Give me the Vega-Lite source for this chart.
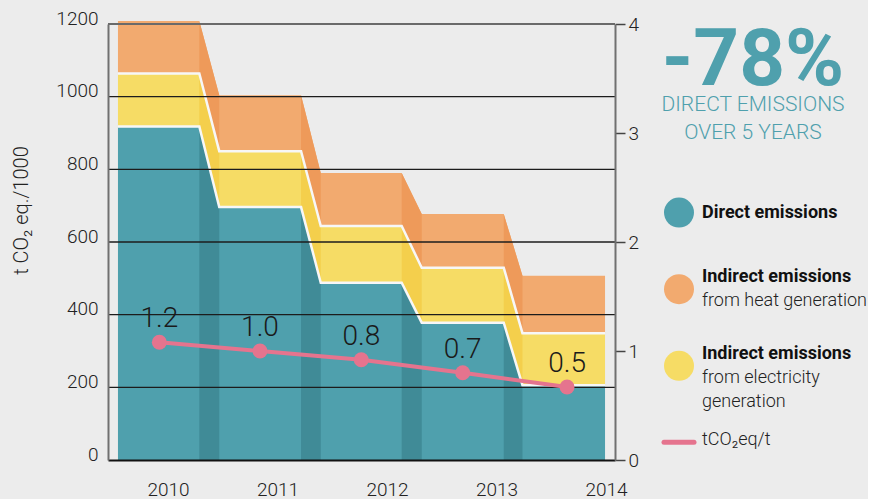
{
  "$schema": "https://vega.github.io/schema/vega-lite/v6.json",
  "background": "#ECECEC",
  "padding": {"left": 11, "top": 9, "right": 0, "bottom": 0},
  "config": {"view": {"stroke": null}, "font": "Roboto"},
  "datasets": {
    "emissions": [
      {"year": 2010, "t": 2009.543, "gap": "", "series": "direct", "value": 918},
      {"year": 2010, "t": 2009.543, "gap": "", "series": "electricity", "value": 146},
      {"year": 2010, "t": 2009.543, "gap": "", "series": "heat", "value": 144},
      {"year": 2010, "t": 2010.286, "gap": "2010-2011", "series": "direct", "value": 918},
      {"year": 2010, "t": 2010.286, "gap": "2010-2011", "series": "electricity", "value": 146},
      {"year": 2010, "t": 2010.286, "gap": "2010-2011", "series": "heat", "value": 144},
      {"year": 2011, "t": 2010.468, "gap": "2010-2011", "series": "direct", "value": 696},
      {"year": 2011, "t": 2010.468, "gap": "2010-2011", "series": "electricity", "value": 154},
      {"year": 2011, "t": 2010.468, "gap": "2010-2011", "series": "heat", "value": 154},
      {"year": 2011, "t": 2011.215, "gap": "2011-2012", "series": "direct", "value": 696},
      {"year": 2011, "t": 2011.215, "gap": "2011-2012", "series": "electricity", "value": 154},
      {"year": 2011, "t": 2011.215, "gap": "2011-2012", "series": "heat", "value": 154},
      {"year": 2012, "t": 2011.395, "gap": "2011-2012", "series": "direct", "value": 488},
      {"year": 2012, "t": 2011.395, "gap": "2011-2012", "series": "electricity", "value": 156},
      {"year": 2012, "t": 2011.395, "gap": "2011-2012", "series": "heat", "value": 146},
      {"year": 2012, "t": 2012.134, "gap": "2012-2013", "series": "direct", "value": 488},
      {"year": 2012, "t": 2012.134, "gap": "2012-2013", "series": "electricity", "value": 156},
      {"year": 2012, "t": 2012.134, "gap": "2012-2013", "series": "heat", "value": 146},
      {"year": 2013, "t": 2012.317, "gap": "2012-2013", "series": "direct", "value": 378},
      {"year": 2013, "t": 2012.317, "gap": "2012-2013", "series": "electricity", "value": 151},
      {"year": 2013, "t": 2012.317, "gap": "2012-2013", "series": "heat", "value": 148},
      {"year": 2013, "t": 2013.066, "gap": "2013-2014", "series": "direct", "value": 378},
      {"year": 2013, "t": 2013.066, "gap": "2013-2014", "series": "electricity", "value": 151},
      {"year": 2013, "t": 2013.066, "gap": "2013-2014", "series": "heat", "value": 148},
      {"year": 2014, "t": 2013.237, "gap": "2013-2014", "series": "direct", "value": 206},
      {"year": 2014, "t": 2013.237, "gap": "2013-2014", "series": "electricity", "value": 143},
      {"year": 2014, "t": 2013.237, "gap": "2013-2014", "series": "heat", "value": 158},
      {"year": 2014, "t": 2013.991, "gap": "", "series": "direct", "value": 206},
      {"year": 2014, "t": 2013.991, "gap": "", "series": "electricity", "value": 143},
      {"year": 2014, "t": 2013.991, "gap": "", "series": "heat", "value": 158}
    ],
    "intensity": [
      {"year": 2010, "t": 2009.921, "intensity": 1.08, "label": "1.2"},
      {"year": 2011, "t": 2010.84, "intensity": 1.0, "label": "1.0"},
      {"year": 2012, "t": 2011.765, "intensity": 0.92, "label": "0.8"},
      {"year": 2013, "t": 2012.691, "intensity": 0.8, "label": "0.7"},
      {"year": 2014, "t": 2013.644, "intensity": 0.67, "label": "0.5"}
    ],
    "gridlines": [
      {"level": 200}, {"level": 400}, {"level": 600}, {"level": 800}, {"level": 1000}
    ],
    "legend": [
      {"item": "title", "headline": "-78%", "subline": "DIRECT EMISSIONS\nOVER 5 YEARS"},
      {"item": "direct", "bold": "Direct emissions", "light": ""},
      {"item": "heat", "bold": "Indirect emissions", "light": "from heat generation"},
      {"item": "electricity", "bold": "Indirect emissions", "light": "from electricity\ngeneration"},
      {"item": "intensity", "bold": "", "light": "tCO₂eq/t"}
    ]
  },
  "bounds": "flush",
  "spacing": 64,
  "resolve": {"scale": {"color": "independent", "x": "independent", "y": "independent"}},
  "hconcat": [
    {
      "width": 507,
      "height": 436,
      "layer": [
        {
          "layer": [
            {
              "data": {"name": "emissions"},
              "transform": [{"stack": "value", "groupby": ["t"], "sort": [{"field": "series", "order": "ascending"}], "as": ["v0", "v1"]}],
              "mark": {"type": "area", "interpolate": "linear"},
              "encoding": {
                "x": {
                  "field": "t", "type": "quantitative",
                  "scale": {"domain": [2009.452, 2014.082], "nice": false, "zero": false},
                  "axis": {
                    "values": [2010, 2011, 2012, 2013, 2014], "format": "d", "grid": false, "ticks": false,
                    "domainColor": "#111111", "domainWidth": 2, "labelFontSize": 19, "labelFontWeight": 300,
                    "labelColor": "#222222", "labelPadding": 20, "title": null, "zindex": 1,
                    "labelFlush": false, "labelOverlap": false
                  }
                },
                "y": {
                  "field": "v1", "type": "quantitative",
                  "scale": {"domain": [0, 1200], "nice": false},
                  "axis": {
                    "orient": "left", "values": [0, 200, 400, 600, 800, 1000, 1200], "format": "d", "grid": false, "ticks": false,
                    "domainColor": "#707070", "domainWidth": 2, "labelFontSize": 19, "labelFontWeight": 300,
                    "labelColor": "#222222", "labelBaseline": "alphabetic", "labelPadding": 10,
                    "labelFlush": false, "labelOverlap": false,
                    "title": "t CO₂ eq./1000", "titleFontSize": 20, "titleFontWeight": 300, "titleColor": "#222222",
                    "titlePadding": 24, "titleY": 186, "zindex": 1
                  }
                },
                "y2": {"field": "v0"},
                "color": {
                  "field": "series", "type": "nominal",
                  "scale": {"domain": ["direct", "electricity", "heat"], "range": ["#4FA0AD", "#F6DC65", "#F2AA6F"]},
                  "legend": null
                }
              }
            },
            {
              "data": {"name": "emissions"},
              "transform": [
                {"stack": "value", "groupby": ["t"], "sort": [{"field": "series", "order": "ascending"}], "as": ["v0", "v1"]},
                {"filter": "datum.gap != ''"}
              ],
              "mark": {"type": "area", "interpolate": "linear"},
              "encoding": {
                "x": {"field": "t", "type": "quantitative", "scale": {"domain": [2009.452, 2014.082], "nice": false, "zero": false}},
                "y": {"field": "v1", "type": "quantitative", "scale": {"domain": [0, 1200], "nice": false}},
                "y2": {"field": "v0"},
                "color": {
                  "field": "series", "type": "nominal",
                  "scale": {"domain": ["direct", "electricity", "heat"], "range": ["#408B97", "#F4CF4C", "#EE9A5A"]},
                  "legend": null
                },
                "detail": {"field": "gap", "type": "nominal"}
              }
            },
            {
              "data": {"name": "emissions"},
              "transform": [
                {"stack": "value", "groupby": ["t"], "sort": [{"field": "series", "order": "ascending"}], "as": ["v0", "v1"]},
                {"filter": "datum.series != 'heat'"}
              ],
              "mark": {"type": "line", "interpolate": "linear", "color": "#F7F7F7", "strokeWidth": 2.5},
              "encoding": {
                "x": {"field": "t", "type": "quantitative", "scale": {"domain": [2009.452, 2014.082], "nice": false, "zero": false}},
                "y": {"field": "v1", "type": "quantitative", "scale": {"domain": [0, 1200], "nice": false}},
                "detail": {"field": "series", "type": "nominal"}
              }
            },
            {
              "data": {"name": "gridlines"},
              "mark": {"type": "rule", "color": "#1C1C1C", "strokeWidth": 1.3},
              "encoding": {
                "y": {"field": "level", "type": "quantitative", "scale": {"domain": [0, 1200], "nice": false}}
              }
            },
            {
              "data": {"name": "gridlines"},
              "mark": {"type": "rule", "color": "#6A6A6A", "strokeWidth": 2},
              "encoding": {
                "y": {"datum": 1200, "type": "quantitative", "scale": {"domain": [0, 1200], "nice": false}}
              }
            }
          ],
          "resolve": {"scale": {"color": "independent"}}
        },
        {
          "data": {"name": "intensity"},
          "encoding": {
            "x": {"field": "t", "type": "quantitative", "scale": {"domain": [2009.452, 2014.082], "nice": false, "zero": false}},
            "y": {
              "field": "intensity", "type": "quantitative",
              "scale": {"domain": [0, 4], "nice": false},
              "axis": {
                "orient": "right", "values": [0, 1, 2, 3, 4], "format": "d", "grid": false,
                "ticks": true, "tickSize": 10, "tickColor": "#444444", "tickWidth": 1.5,
                "domainColor": "#707070", "domainWidth": 2, "labelFontSize": 19, "labelFontWeight": 300,
                "labelColor": "#222222", "labelPadding": 3, "title": null, "zindex": 1, "labelFlush": false
              }
            }
          },
          "layer": [
            {"mark": {"type": "line", "color": "#E5748E", "strokeWidth": 4}},
            {"mark": {"type": "point", "filled": true, "color": "#E5748E", "size": 225, "opacity": 1}},
            {
              "mark": {"type": "text", "fontSize": 28, "fontWeight": 300, "color": "#1A1A1A", "baseline": "alphabetic", "align": "center", "dy": -15},
              "encoding": {"text": {"field": "label"}}
            }
          ]
        }
      ],
      "resolve": {"scale": {"y": "independent"}}
    },
    {
      "width": 23,
      "height": 436,
      "data": {"name": "legend"},
      "encoding": {
        "y": {
          "field": "item", "type": "nominal",
          "scale": {"type": "point", "domain": ["title", "direct", "heat", "electricity", "intensity"], "padding": 0.846, "align": 0.864},
          "axis": null
        }
      },
      "layer": [
        {
          "transform": [{"filter": "datum.item == 'title'"}],
          "mark": {"type": "text", "fontSize": 80, "fontWeight": "bold", "color": "#4FA0AD", "align": "center", "baseline": "alphabetic", "dx": 51, "dy": -51},
          "encoding": {
            "x": {"datum": "text", "type": "nominal", "scale": {"type": "point", "domain": ["marker", "text"], "padding": 0}, "axis": null},
            "text": {"field": "headline"}
          }
        },
        {
          "transform": [{"filter": "datum.item == 'title'"}],
          "mark": {"type": "text", "fontSize": 21, "fontWeight": 300, "color": "#4FA0AD", "align": "center", "baseline": "middle", "dx": 51, "dy": -31, "lineHeight": 28, "lineBreak": "\n"},
          "encoding": {
            "x": {"datum": "text", "type": "nominal", "scale": {"type": "point", "domain": ["marker", "text"], "padding": 0}, "axis": null},
            "text": {"field": "subline"}
          }
        },
        {
          "transform": [{"filter": "datum.item == 'direct' || datum.item == 'heat' || datum.item == 'electricity'"}],
          "mark": {"type": "point", "filled": true, "size": 900, "opacity": 1},
          "encoding": {
            "x": {"datum": "marker", "type": "nominal", "scale": {"type": "point", "domain": ["marker", "text"], "padding": 0}, "axis": null},
            "color": {
              "field": "item", "type": "nominal",
              "scale": {"domain": ["direct", "heat", "electricity"], "range": ["#4FA0AD", "#F2AA6F", "#F6DC65"]},
              "legend": null
            }
          }
        },
        {
          "transform": [{"filter": "datum.item == 'intensity'"}],
          "mark": {"type": "point", "shape": "M-1,0L1,0", "filled": false, "stroke": "#E5748E", "strokeWidth": 5, "strokeCap": "round", "size": 900, "opacity": 1},
          "encoding": {
            "x": {"datum": "marker", "type": "nominal", "scale": {"type": "point", "domain": ["marker", "text"], "padding": 0}, "axis": null}
          }
        },
        {
          "transform": [{"filter": "datum.bold && datum.light"}],
          "mark": {"type": "text", "fontSize": 18, "fontWeight": "bold", "color": "#111111", "align": "left", "baseline": "middle", "dy": -12},
          "encoding": {
            "x": {"datum": "text", "type": "nominal", "scale": {"type": "point", "domain": ["marker", "text"], "padding": 0}, "axis": null},
            "text": {"field": "bold"}
          }
        },
        {
          "transform": [{"filter": "datum.bold && !datum.light"}],
          "mark": {"type": "text", "fontSize": 18, "fontWeight": "bold", "color": "#111111", "align": "left", "baseline": "middle"},
          "encoding": {
            "x": {"datum": "text", "type": "nominal", "scale": {"type": "point", "domain": ["marker", "text"], "padding": 0}, "axis": null},
            "text": {"field": "bold"}
          }
        },
        {
          "transform": [{"filter": "datum.bold && datum.light"}],
          "mark": {"type": "text", "fontSize": 18, "fontWeight": 300, "color": "#222222", "align": "left", "baseline": "middle", "dy": 12, "lineHeight": 24, "lineBreak": "\n"},
          "encoding": {
            "x": {"datum": "text", "type": "nominal", "scale": {"type": "point", "domain": ["marker", "text"], "padding": 0}, "axis": null},
            "text": {"field": "light"}
          }
        },
        {
          "transform": [{"filter": "!datum.bold && datum.light"}],
          "mark": {"type": "text", "fontSize": 18, "fontWeight": 300, "color": "#222222", "align": "left", "baseline": "middle", "dy": -2},
          "encoding": {
            "x": {"datum": "text", "type": "nominal", "scale": {"type": "point", "domain": ["marker", "text"], "padding": 0}, "axis": null},
            "text": {"field": "light"}
          }
        }
      ]
    }
  ]
}
